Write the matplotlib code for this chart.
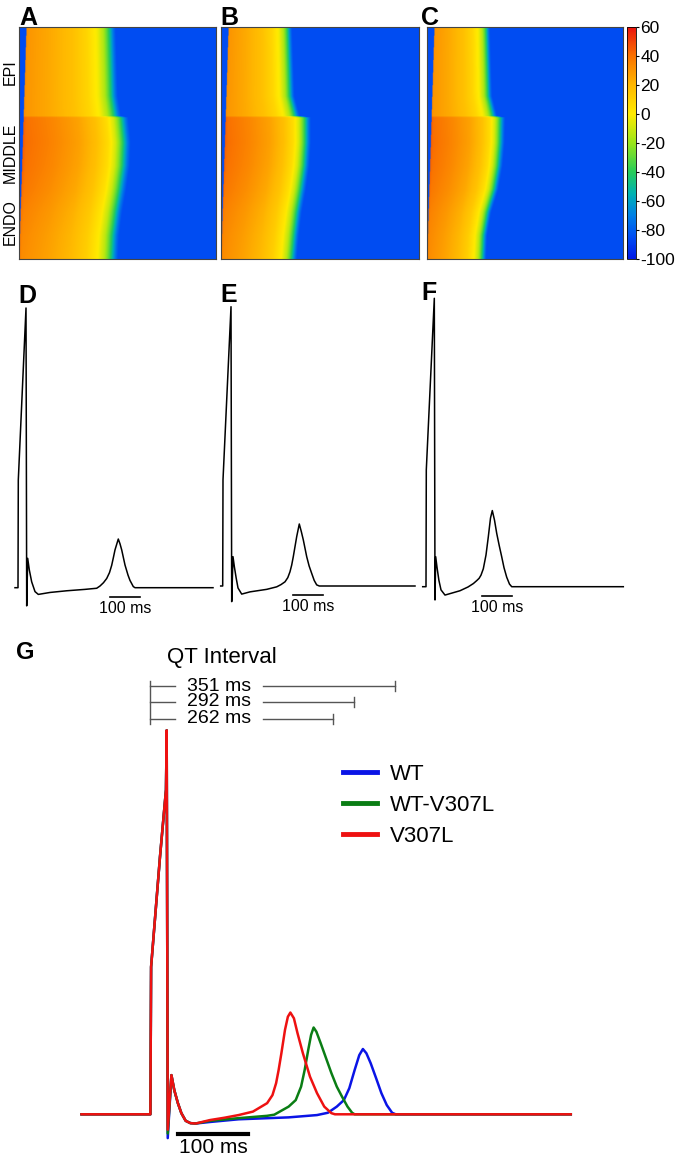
import numpy as np
import matplotlib
matplotlib.use("Agg")
import matplotlib.pyplot as plt
from matplotlib.colors import LinearSegmentedColormap

plt.rcParams["font.family"] = ["Liberation Sans", "DejaVu Sans"]

# ---------------- data: transmural voltage maps (A-C) ----------------
# depth 0 = epicardial surface (top), 1 = endocardial surface (bottom)
depth_frac = [0.0, 0.30, 0.385, 0.392, 0.50, 0.60, 0.70, 0.80, 0.90, 1.0]
repol_A = [372, 380, 392, 420, 429, 425, 412, 396, 384, 380]   # ms, end of AP
repol_B = [271, 280, 300, 342, 342, 336, 323, 307, 296, 288]
repol_C = [244, 252, 271, 302, 300, 292, 276, 248, 232, 228]
peak_mv = [33, 33, 33, 44, 45, 44, 42, 39, 37, 36]
act_ms = [30, 0]            # activation time at epi / endo
rest_mv = -85
ap_frac = [0.0, 0.03, 0.30, 0.55, 0.72, 0.84, 0.91, 0.95, 0.98, 1.0, 1.03, 1.06]
ap_rel = [1.0, 0.97, 0.92, 0.86, 0.79, 0.70, 0.59, 0.47, 0.36, 0.25, 0.10, 0.0]
map_span_ms = 800
layer_labels = ["EPI", "MIDDLE", "ENDO"]

cbar_ticks = [60, 40, 20, 0, -20, -40, -60, -80, -100]
cmap_mv = [-100, -85, -70, -55, -40, -20, 0, 20, 40, 60]
cmap_rgb = [(0.00, 0.10, 0.90), (0.00, 0.30, 0.95), (0.00, 0.50, 0.90),
            (0.00, 0.70, 0.70), (0.15, 0.80, 0.35), (0.60, 0.90, 0.10),
            (1.00, 0.92, 0.00), (1.00, 0.72, 0.00), (0.98, 0.45, 0.00),
            (0.92, 0.08, 0.05)]

# ---------------- data: pseudo-ECGs (D-F), ms from upstroke, R peak = 1 ----------------
d_t = [-10, 0, 1, 26.7, 29, 32.3, 37.8, 45.6, 56.7, 67.7, 106.7, 162.3, 223.3, 262.3,
       273.3, 285, 295.7, 305, 312.3, 318, 323.3, 334.3, 340, 345.7, 356.7, 366.7,
       373.3, 384.3, 390, 650]
d_a = [0, 0, 0.385, 1.0, -0.065, 0.105, 0.063, 0.021, -0.014, -0.024, -0.017,
       -0.011, -0.006, -0.002, 0.006, 0.018, 0.033, 0.054, 0.080, 0.108, 0.135,
       0.174, 0.157, 0.135, 0.081, 0.045, 0.026, 0.004, 0, 0]

e_t = [-6.7, 0, 1, 27.7, 30, 34.3, 39, 45, 51, 63.3, 91, 146.7, 180, 194.3, 207.7,
       217, 224.3, 230, 235.3, 246.7, 255.3, 262, 268.7, 280, 288, 296.7, 305,
       313.3, 322, 641]
e_a = [0, 0, 0.38, 1.0, -0.056, 0.105, 0.068, 0.028, -0.007, -0.029, -0.021,
       -0.012, -0.003, 0.005, 0.015, 0.030, 0.051, 0.075, 0.105, 0.177, 0.222,
       0.195, 0.165, 0.105, 0.072, 0.045, 0.020, 0.004, 0, 0]

f_t = [-11, 0, 1, 27.7, 30, 32.3, 37, 43, 50, 63.3, 86.7, 113.3, 140, 158, 169,
       177, 183.3, 191, 200, 207.7, 215, 221, 228.3, 235.7, 244, 252.3, 260, 269,
       278.3, 285.7, 657.7]
f_a = [0, 0, 0.405, 1.0, -0.046, 0.104, 0.065, 0.022, -0.011, -0.029, -0.022,
       -0.014, -0.001, 0.011, 0.021, 0.029, 0.040, 0.062, 0.11, 0.173, 0.238,
       0.264, 0.231, 0.185, 0.143, 0.104, 0.066, 0.033, 0.009, 0, 0]

# ---------------- data: overlay (G) ----------------
qrs_t = [-99, 0, 1, 13.8, 22.4, 23.4]
qrs_a = [0, 0, 0.384, 0.671, 0.845, 1.0]

wt_t = [24.9, 30.2, 34.3, 39.5, 44.5, 50.7, 57.5, 65, 85.6, 126.7, 198.6, 239.4,
        255, 267.8, 278, 285.8, 293.4, 300.1, 305.3, 310.3, 316.5, 324.3, 331.9,
        339.6, 347.3, 352.4, 604]
wt_a = [-0.062, 0.102, 0.063, 0.029, 0.003, -0.017, -0.023, -0.024, -0.020, -0.013,
        -0.008, -0.002, 0.004, 0.020, 0.037, 0.068, 0.115, 0.154, 0.170, 0.159,
        0.133, 0.094, 0.055, 0.024, 0.004, 0, 0]

het_t = [24.9, 30.2, 34.3, 39.5, 44.5, 50.7, 57.5, 65, 85.6, 126.7, 167.5, 178,
         198.6, 208.8, 216.5, 221.6, 226.7, 230.9, 234.5, 238.5, 244.7, 252.4,
         260.1, 267.8, 275.3, 283.2, 289.8, 293.4, 604]
het_a = [-0.05, 0.102, 0.063, 0.029, 0.003, -0.017, -0.023, -0.024, -0.017, -0.010,
         -0.004, -0.001, 0.020, 0.037, 0.072, 0.115, 0.167, 0.207, 0.226, 0.215,
         0.185, 0.146, 0.107, 0.072, 0.046, 0.020, 0.004, 0, 0]

mut_t = [24.9, 30.2, 34.3, 39.5, 44.5, 50.7, 57.5, 65, 85.6, 106.2, 126.7, 147.3,
         167.7, 175.4, 180.6, 184.2, 188.2, 193.4, 197.5, 201.1, 206.2, 211.4,
         219.1, 229.3, 239.4, 249.8, 260, 265.2, 604]
mut_a = [-0.04, 0.102, 0.063, 0.029, 0.003, -0.017, -0.023, -0.024, -0.015, -0.009,
         -0.002, 0.007, 0.029, 0.050, 0.081, 0.115, 0.159, 0.220, 0.254, 0.265,
         0.250, 0.211, 0.159, 0.098, 0.055, 0.020, 0.003, 0, 0]

series_names = ["WT", "WT-V307L", "V307L"]
series_colors = ["#0a14e6", "#0a7d14", "#ee1111"]
qt_ms = [351, 292, 262]

# ---------------- layout (pixels) ----------------
W, H = 675, 1158
fig = plt.figure(figsize=(W / 100, H / 100), dpi=100)


def px_axes(box):
    l, t, r, b = box
    return fig.add_axes([l / W, 1 - b / H, (r - l) / W, (b - t) / H])


def ftext(x, y, s, **kw):
    return fig.text(x / W, 1 - y / H, s, **kw)


def trace_ax(box, x0, y0, px_ms, px_unit):
    l, t, r, b = box
    ax = px_axes(box)
    ax.set_xlim((l - x0) / px_ms, (r - x0) / px_ms)
    ax.set_ylim((y0 - b) / px_unit, (y0 - t) / px_unit)
    ax.set_axis_off()
    return ax


cmap = LinearSegmentedColormap.from_list(
    "vm", [((v + 100) / 160, c) for v, c in zip(cmap_mv, cmap_rgb)])


def voltage_map(repol):
    depth = np.linspace(0, 1, 240)
    t = np.linspace(0, map_span_ms, 500)
    act = np.interp(depth, [0, 1], act_ms)
    rep = np.interp(depth, depth_frac, repol)
    pk = np.interp(depth, depth_frac, peak_mv)
    frac = (t[None, :] - act[:, None]) / (rep - act)[:, None]
    rel = np.interp(frac, ap_frac, ap_rel, left=0, right=0)
    return rest_mv + rel * (pk[:, None] - rest_mv)


map_boxes = [(18.5, 27, 215.5, 259), (221, 27, 419, 259), (426.5, 27, 622.5, 259)]
map_letters = [("A", 19), ("B", 220), ("C", 421)]
im = None
for box, repol, (letter, lx) in zip(map_boxes, [repol_A, repol_B, repol_C], map_letters):
    ax = px_axes(box)
    im = ax.imshow(voltage_map(repol), cmap=cmap, vmin=-100, vmax=60, aspect="auto",
                   extent=[0, map_span_ms, 1, 0], interpolation="bilinear")
    ax.set_xticks([])
    ax.set_yticks([])
    for sp in ax.spines.values():
        sp.set_linewidth(0.8)
        sp.set_color("#444444")
    ftext(lx, 25, letter, fontsize=18, fontweight="bold", va="baseline")

for lab, yc in zip(layer_labels, [72, 153, 222]):
    ftext(10, yc, lab, fontsize=11.5, rotation=90, ha="center", va="center")

cax = px_axes((627, 27, 636, 259))
cbar = fig.colorbar(im, cax=cax, ticks=cbar_ticks)
cbar.ax.set_yticklabels([str(v) for v in cbar_ticks])
cbar.ax.tick_params(labelsize=12.5, length=2, width=0.8, pad=1)
cbar.outline.set_linewidth(0.6)

# ---------------- D-F ----------------
trace_specs = [
    ((8, 280, 217, 625), 18, 587.7, 279.7, d_t, d_a, "D", 18, 302.7, 306.7),
    ((212, 280, 420, 625), 222.7, 586, 279.3, e_t, e_a, "E", 220, 302.3, 233.3),
    ((416, 280, 640, 625), 426, 586.7, 288.4, f_t, f_a, "F", 421, 300.5, 185.7),
]
for box, x0, y0, pu, tt, aa, letter, lx, ly, sb0 in trace_specs:
    ax = trace_ax(box, x0, y0, 0.3, pu)
    ax.plot(tt, aa, color="black", lw=1.1, solid_joinstyle="round")
    ax.plot([sb0, sb0 + 100], [-0.032, -0.032], color="black", lw=1.2)
    ax.annotate("100 ms", xy=(sb0 + 50, -0.032), xytext=(0, -3),
                textcoords="offset points", ha="center", va="top", fontsize=11.5)
    ftext(lx, ly, letter, fontsize=18, fontweight="bold", va="baseline")

# ---------------- G ----------------
axg = trace_ax((60, 636, 620, 1158), 150.4, 1114.3, 0.696, 384)
for tail_t, tail_a, name, col in zip([wt_t, het_t, mut_t], [wt_a, het_a, mut_a],
                                      series_names, series_colors):
    axg.plot(qrs_t + tail_t, qrs_a + tail_a, color=col, lw=1.8, label=name,
             solid_joinstyle="round")

axg.plot([40, 140], [-0.05, -0.05], color="black", lw=3)
axg.annotate("100 ms", xy=(90, -0.05), xytext=(0, -3), textcoords="offset points",
             ha="center", va="top", fontsize=15)

qt_rows = [1.115, 1.074, 1.030]
gap_l, gap_r, tick_h = 35, 162, 0.013
axg.plot([0, 0], [qt_rows[0] + tick_h, qt_rows[-1] - tick_h], color="#555555", lw=1)
for q, a in zip(qt_ms, qt_rows):
    axg.plot([0, gap_l], [a, a], color="#555555", lw=1)
    axg.plot([gap_r, q], [a, a], color="#555555", lw=1)
    axg.plot([q, q], [a - tick_h, a + tick_h], color="#555555", lw=1)
    axg.text((gap_l + gap_r) / 2, a, f"{q} ms", ha="center", va="center", fontsize=14)
axg.text(103, 1.189, "QT Interval", ha="center", va="center", fontsize=16)

axg.legend(loc="upper left", bbox_to_anchor=(343 / W, 1 - 764 / H),
           bbox_transform=fig.transFigure, frameon=False, fontsize=16,
           handlelength=1.53, handletextpad=0.6, labelspacing=0.45,
           borderpad=0, borderaxespad=0)
for lh in axg.get_legend().get_lines():
    lh.set_linewidth(3.5)

ftext(16, 659, "G", fontsize=17, fontweight="bold", va="baseline")

fig.savefig("out.png", dpi=100)
